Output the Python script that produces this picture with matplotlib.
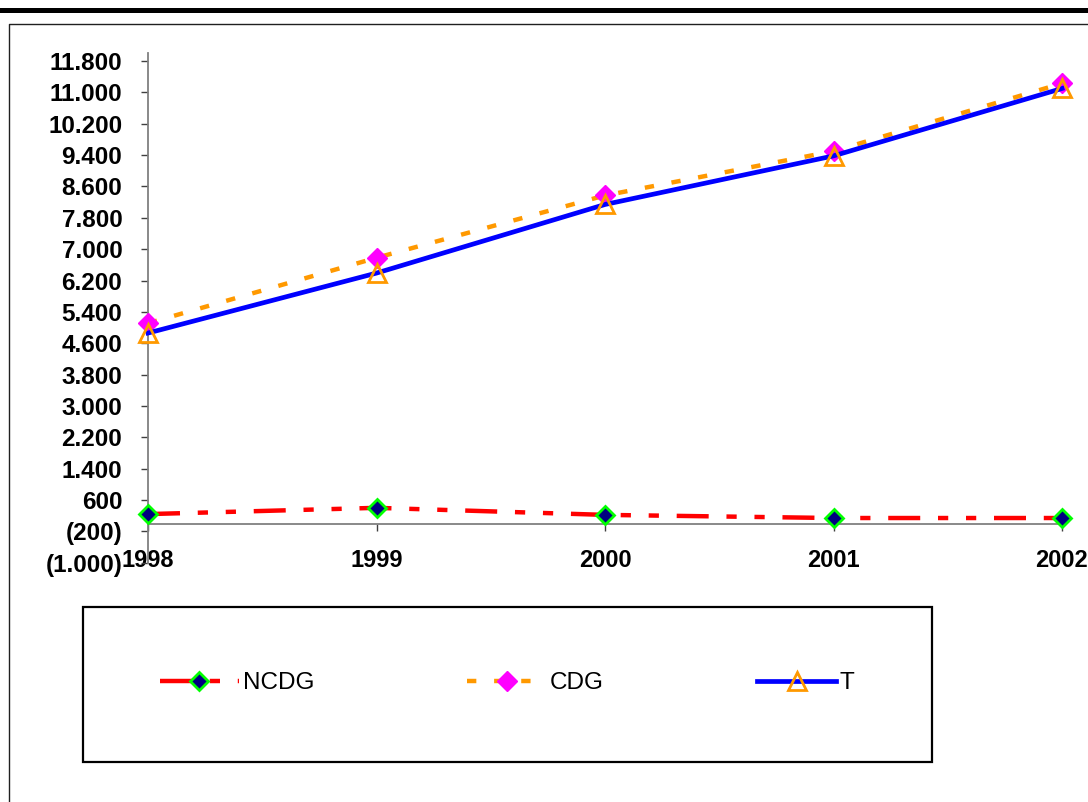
import matplotlib
matplotlib.use("Agg")
import matplotlib.pyplot as plt
from matplotlib.lines import Line2D
from matplotlib.patches import Rectangle
from matplotlib.ticker import FixedLocator, FuncFormatter

plt.rcParams["font.family"] = ["Liberation Sans", "DejaVu Sans"]

# 数据
years = ["1998", "1999", "2000", "2001", "2002"]
ncdg = [240, 400, 220, 140, 140]
cdg = [5110, 6780, 8370, 9500, 11230]
t_vals = [4860, 6390, 8140, 9380, 11100]
y_ticks = list(range(-1000, 12000, 800))

W, H = 1088, 802


def fx(px):
    return px / W


def fy(py):
    return 1 - py / H


def fmt_val(v, _pos=None):
    s = f"{abs(int(round(v))):,}".replace(",", ".")
    return f"({s})" if v < 0 else s


fig = plt.figure(figsize=(W / 100, H / 100), dpi=100)
ax = fig.add_axes([fx(148), fy(562.7), fx(1062) - fx(148), fy(53.2) - fy(562.7)])

x = list(range(len(years)))
ax.plot(x, ncdg, color="#ff0000", lw=3.2, dashes=(7.2, 4.0, 2.3, 4.0, 2.3, 4.0),
        marker="D", markersize=9.5, markerfacecolor="#000080",
        markeredgecolor="#00ff00", markeredgewidth=2, clip_on=False,
        label="NCDG", zorder=3)
ax.plot(x, cdg, color="#ff9900", lw=3.2, dashes=(2.1, 4.0),
        marker="D", markersize=10, markerfacecolor="#ff00ff",
        markeredgecolor="#ff00ff", markeredgewidth=1, clip_on=False,
        label="CDG", zorder=4)
ax.plot(x, t_vals, color="#0000ff", lw=3.4, linestyle="-",
        marker="^", markersize=13, markerfacecolor="none",
        markeredgecolor="#ff9900", markeredgewidth=2, clip_on=False,
        label="T", zorder=5)

ax.set_xlim(0, len(years) - 1)
ax.set_ylim(-1000, 12000)
ax.set_xticks(x)
ax.set_xticklabels(years)
ax.yaxis.set_major_locator(FixedLocator(y_ticks))
ax.yaxis.set_major_formatter(FuncFormatter(fmt_val))

for side in ("top", "right"):
    ax.spines[side].set_visible(False)
ax.spines["bottom"].set_position(("data", 0))
for side in ("left", "bottom"):
    ax.spines[side].set_color("#808080")
    ax.spines[side].set_linewidth(1.3)

ax.tick_params(axis="y", direction="out", length=5, width=1, color="#404040",
               pad=13.5, labelsize=17.5)
ax.tick_params(axis="x", direction="out", length=5, width=1, color="#404040",
               pad=13, labelsize=17)
for lab in ax.get_xticklabels() + ax.get_yticklabels():
    lab.set_fontweight("bold")
ax.patch.set_alpha(0)

# 顶部粗线和外框
fig.add_artist(Line2D([0, 1], [fy(9.5), fy(9.5)], transform=fig.transFigure,
                      color="black", lw=3.6))
fig.add_artist(Line2D([fx(8.5), fx(8.5), 1], [0, fy(24), fy(24)],
                      transform=fig.transFigure, color="#202020", lw=1))

# 图例框
fig.add_artist(Rectangle((fx(83), fy(762)), fx(932) - fx(83), fy(607) - fy(762),
                         transform=fig.transFigure, fill=False,
                         edgecolor="black", lw=1.6))
fig.legend(loc="center left", bbox_to_anchor=(fx(160), fy(683)), ncol=3,
           frameon=False, fontsize=17.5, handlelength=3.25, handletextpad=0.15,
           columnspacing=6.3, borderpad=0, borderaxespad=0)

fig.savefig("out.png", dpi=100)
plt.close(fig)
